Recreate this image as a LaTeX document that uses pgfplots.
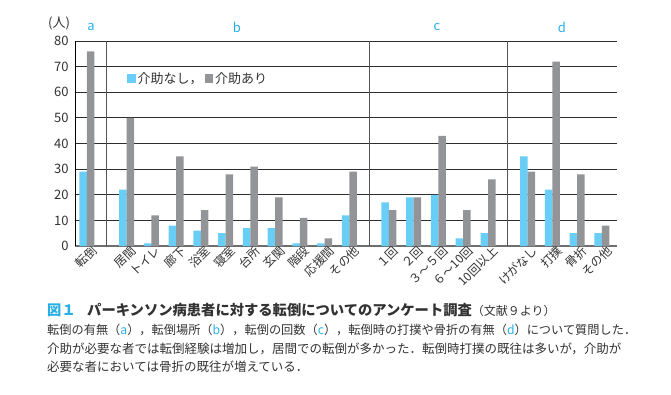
\documentclass[border=0pt]{standalone}
\usepackage{pgfplots}
\pgfplotsset{compat=1.18}
\usepackage{pgfplotstable}
\usepackage{fontspec}
\setmainfont{Noto Sans CJK JP}
\definecolor{cyanbar}{RGB}{104,206,245}
\definecolor{graybar}{RGB}{147,148,152}
\definecolor{labcyan}{RGB}{40,175,230}
\definecolor{textcol}{RGB}{50,50,50}
\definecolor{gridcol}{RGB}{45,45,45}
\definecolor{sepcol}{RGB}{85,85,85}
\definecolor{basecol}{RGB}{110,110,110}

\pgfplotstableread{
x    nai ari
0    29  76
1.6  22  50
2.6  1   12
3.6  8   35
4.6  6   14
5.6  5   28
6.6  7   31
7.6  7   19
8.6  1   11
9.6  1   3
10.6 12  29
12.2 17  14
13.2 19  19
14.2 20  43
15.2 3   14
16.2 5   26
17.8 35  29
18.8 22  72
19.8 5   28
20.8 5   8
}\datatable

\begin{document}
\begin{tikzpicture}
\useasboundingbox (0,0) rectangle (671pt,-394pt);
\begin{axis}[
  at={(75pt,-246pt)}, anchor=south west,
  width=542pt, height=205pt, scale only axis,
  xmin=-0.48, xmax=21.41, ymin=0, ymax=80,
  axis x line*=bottom, axis y line*=left,
  x axis line style={draw=basecol, line width=1.6pt, -},
  y axis line style={draw=black, line width=0.9pt, -},
  ybar=0pt, bar width=7.5pt,
  ytick={0,10,...,80},
  ymajorgrids,
  major grid style={draw=gridcol, line width=1pt},
  major tick length=0pt,
  /pgf/number format/assume math mode=true,
  yticklabel style={font=\fontsize{13}{15}\selectfont, text=textcol, xshift=-3pt},
  xtick={0,1.6,2.6,3.6,4.6,5.6,6.6,7.6,8.6,9.6,10.6,12.2,13.2,14.2,15.2,16.2,17.8,18.8,19.8,20.8},
  xticklabels={転倒,居間,トイレ,廊下,浴室,寝室,台所,玄関,階段,応援間,その他,１回,２回,３～５回,６～10回,10回以上,けがなし,打撲,骨折,その他},
  xticklabel style={font=\fontsize{12}{14}\selectfont, text=textcol, rotate=45, anchor=north east, inner sep=0.5pt, xshift=4pt, yshift=-1pt},
  extra x ticks={0.8,11.4,17.0},
  extra x tick labels={},
  extra x tick style={grid=major, major grid style={draw=sepcol, line width=1pt}},
  legend style={at={(rel axis cs:0.096,0.815)}, anchor=west, draw=none, fill=none,
    font=\fontsize{13}{15}\selectfont, text=textcol, inner sep=0pt,
    /tikz/every even column/.append style={column sep=0pt}},
  legend columns=2,
  legend image code/.code={\fill[#1] (0pt,-4.5pt) rectangle (8.5pt,4.5pt);},
  clip=false,
]
\addplot[fill=cyanbar, draw=none] table[x=x, y=nai] {\datatable};
\addplot[fill=graybar, draw=none] table[x=x, y=ari] {\datatable};
\legend{介助なし，,介助あり}
\end{axis}
\node[font=\fontsize{13}{15}\selectfont, text=textcol] at (59pt,-23pt) {(人)};
\foreach \lab/\xx in {a/91,b/237,c/437,d/562}{
  \node[font=\fontsize{13}{15}\selectfont, text=labcyan] at (\xx pt,-27pt) {\lab};
}
\node[anchor=base west, inner sep=0pt, text=textcol] at (47pt,-315pt)
  {\fontsize{14.3}{16}\selectfont\bfseries\textcolor{labcyan}{図１}\hspace{0.8em}パーキンソン病患者に対する転倒についてのアンケート調査\mdseries\fontsize{12}{14}\selectfont（文献９より）};
\node[anchor=base west, inner sep=0pt, text=textcol, font=\fontsize{12.2}{14}\selectfont] at (47pt,-334pt)
  {転倒の有無（\textcolor{labcyan}{a}），転倒場所（\textcolor{labcyan}{b}），転倒の回数（\textcolor{labcyan}{c}），転倒時の打撲や骨折の有無（\textcolor{labcyan}{d}）について質問した．};
\node[anchor=base west, inner sep=0pt, text=textcol, font=\fontsize{12.5}{14}\selectfont] at (47pt,-353pt)
  {介助が必要な者では転倒経験は増加し，居間での転倒が多かった．転倒時打撲の既往は多いが，介助が};
\node[anchor=base west, inner sep=0pt, text=textcol, font=\fontsize{12.5}{14}\selectfont] at (47pt,-371pt)
  {必要な者においては骨折の既往が増えている．};
\end{tikzpicture}
\end{document}
